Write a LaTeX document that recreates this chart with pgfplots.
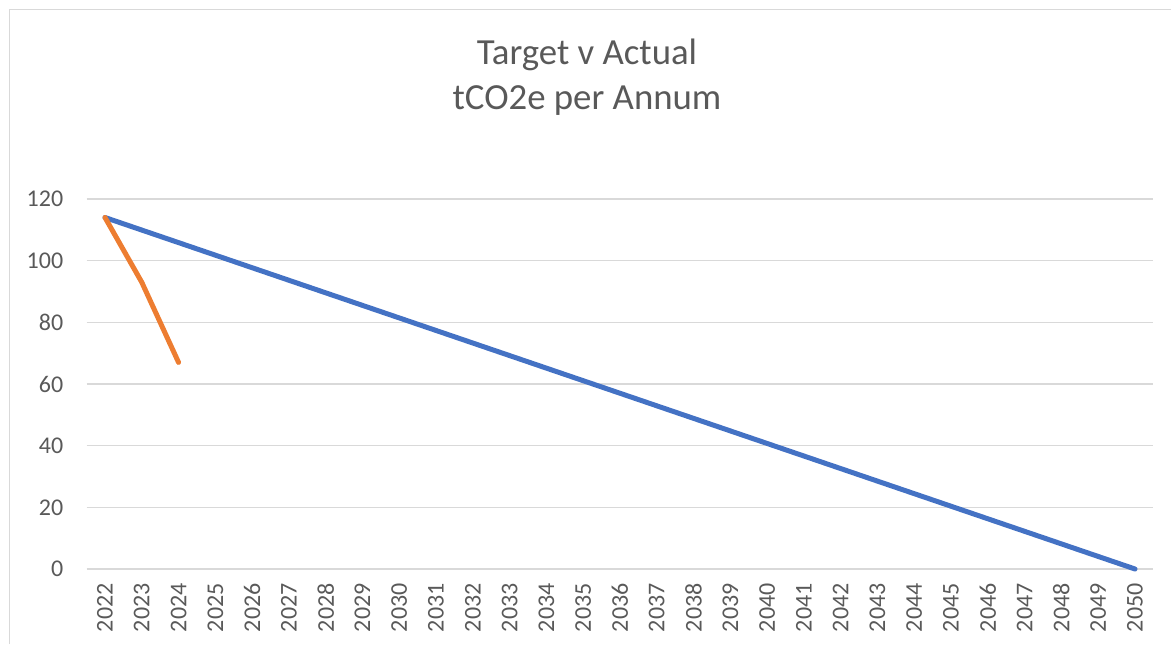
\documentclass[border=0pt]{standalone}
\usepackage{pgfplots}
\pgfplotsset{compat=1.18}
\usepackage{fontspec}
\setmainfont{Carlito}
\definecolor{txt}{HTML}{595959}
\definecolor{gridc}{HTML}{D9D9D9}
\definecolor{blueL}{HTML}{4472C4}
\definecolor{orangeL}{HTML}{ED7D31}
\begin{document}
\begin{tikzpicture}
\useasboundingbox (0pt,0pt) rectangle (585.5pt,322pt);
\draw[gridc, line width=0.75pt] (4.75pt,0pt) -- (4.75pt,317.25pt) -- (585.5pt,317.25pt);
\node[anchor=base, text=txt, font=\fontsize{18.4}{20}\selectfont] at (293.5pt,289.5pt) {Target v Actual};
\node[anchor=base, text=txt, font=\fontsize{18.4}{20}\selectfont] at (293.5pt,267pt) {tCO2e per Annum};
\begin{axis}[
  at={(43.3pt,37.5pt)}, anchor=south west,
  width=533.4pt, height=185pt, scale only axis,
  xmin=2021.5, xmax=2050.5, ymin=0, ymax=120,
  xtick={2022,...,2050}, ytick={0,20,...,120},
  /pgf/number format/assume math mode=true,
  /pgf/number format/1000 sep={},
  axis line style={draw=none},
  tick style={draw=none},
  ymajorgrids, major grid style={gridc, line width=0.75pt},
  ticklabel style={text=txt, font=\fontsize{12}{14}\selectfont},
  xticklabel style={rotate=90, anchor=east, inner sep=0pt, xshift=-7pt},
  yticklabel style={anchor=east, inner sep=0pt, xshift=-11.5pt},
  clip=false,
]
\addplot[blueL, line width=2.5pt, line cap=round, line join=round] coordinates {(2022,114) (2050,0)};
\addplot[orangeL, line width=2.5pt, line cap=round, line join=round] coordinates {(2022,114) (2023,93) (2024,67)};
\end{axis}
\end{tikzpicture}
\end{document}
